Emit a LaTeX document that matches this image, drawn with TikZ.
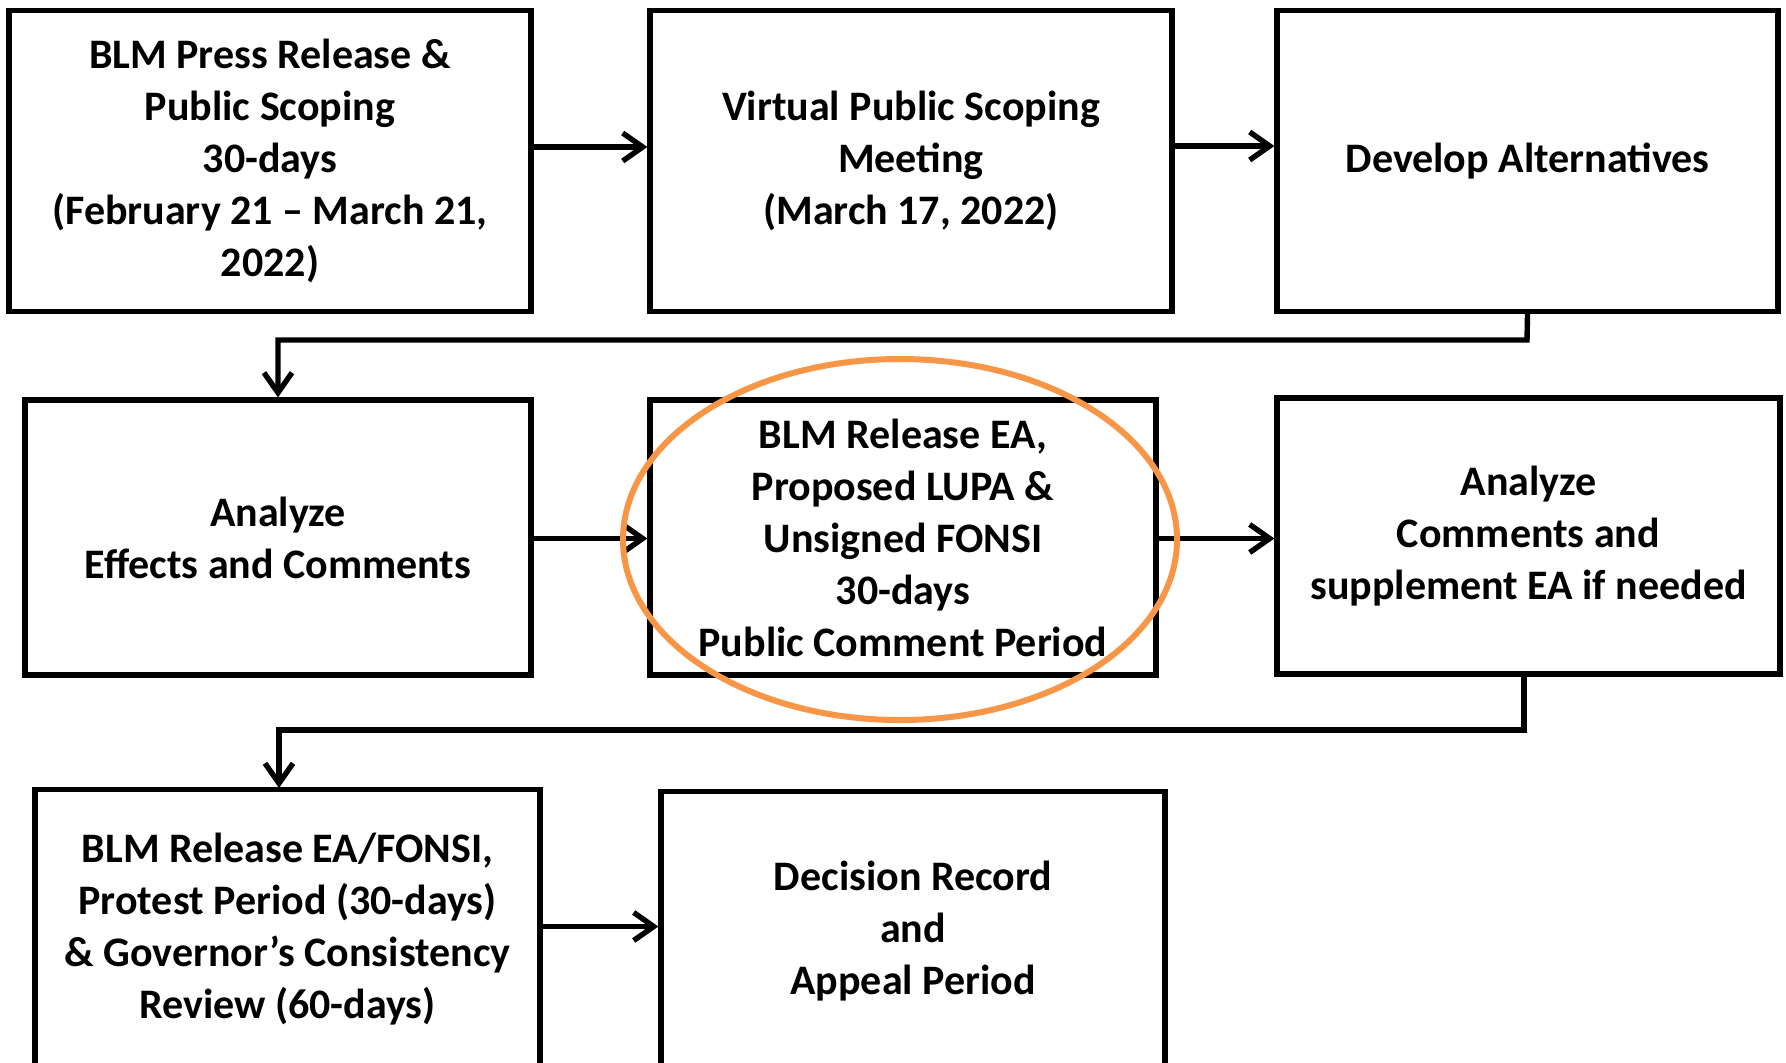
\documentclass[tikz,border=0pt]{standalone}
\usepackage{fontspec}
\setmainfont{Carlito}
\usetikzlibrary{arrows.meta}
\definecolor{ovalorange}{HTML}{F79646}
\begin{document}
\begin{tikzpicture}[x=0.5pt,y=-0.5pt,
  box/.style={draw=black,line width=2.6pt,rectangle,inner sep=0pt,
    align=center,font=\fontsize{21}{26}\selectfont\bfseries},
  conn/.style={line width=2.7pt,-{Straight Barb[length=10pt,width=14pt,line width=2.7pt]}}]
\useasboundingbox (0,0) rectangle (1786,1062);
\fill[white] (0,0) rectangle (1786,1062);
\node[box,minimum width=261pt,minimum height=150.5pt] (b1) at (270,161)
  {BLM Press Release \&\\Public Scoping\\30-days\\(February 21 -- March 21,\\2022)};
\node[box,minimum width=261pt,minimum height=150.5pt] (b2) at (911,161)
  {Virtual Public Scoping\\Meeting\\(March 17, 2022)};
\node[box,minimum width=250.5pt,minimum height=150.5pt] (b3) at (1527.5,161)
  {Develop Alternatives};
\node[box,minimum width=253pt,minimum height=137.5pt] (b4) at (278,537.5)
  {Analyze\\Effects and Comments};
\node[box,minimum width=253pt,minimum height=137.5pt] (b5) at (903,537.5)
  {BLM Release EA,\\Proposed LUPA \&\\Unsigned FONSI\\30-days\\Public Comment Period};
\node[box,minimum width=251.5pt,minimum height=138pt] (b6) at (1528.5,536)
  {Analyze\\Comments and\\supplement EA if needed};
\node[box,minimum width=252.5pt,minimum height=139.5pt] (b7) at (287.5,929)
  {BLM Release EA/FONSI,\\Protest Period (30-days)\\\& Governor’s Consistency\\Review (60-days)};
\node[box,minimum width=252pt,minimum height=139.5pt] (b8) at (913,931)
  {Decision Record\\and\\Appeal Period};
\coordinate (j1) at (1527,340);
\coordinate (j2) at (1524,730);
\coordinate (t7) at (279,788);
\draw[conn] ([yshift=7pt]b1.east) -- ([yshift=7pt]b2.west);
\draw[conn] ([yshift=7.5pt]b2.east) -- ([yshift=7.5pt]b3.west);
\draw[conn] (b3.south) -- (j1) -| (b4.north);
\draw[conn] ([yshift=-0.5pt]b4.east) -- ([yshift=-0.5pt]b5.west);
\draw[conn] ([yshift=-0.5pt]b5.east) -- ([yshift=-1.25pt]b6.west);
\draw[conn] (j2 |- b6.south) -- (j2) -| (t7);
\draw[conn] ([yshift=1.25pt]b7.east) -- ([yshift=2.25pt]b8.west);
\draw[ovalorange,line width=3pt] (900,539.5) ellipse [x radius=138.5pt,y radius=90.25pt];
\end{tikzpicture}
\end{document}
